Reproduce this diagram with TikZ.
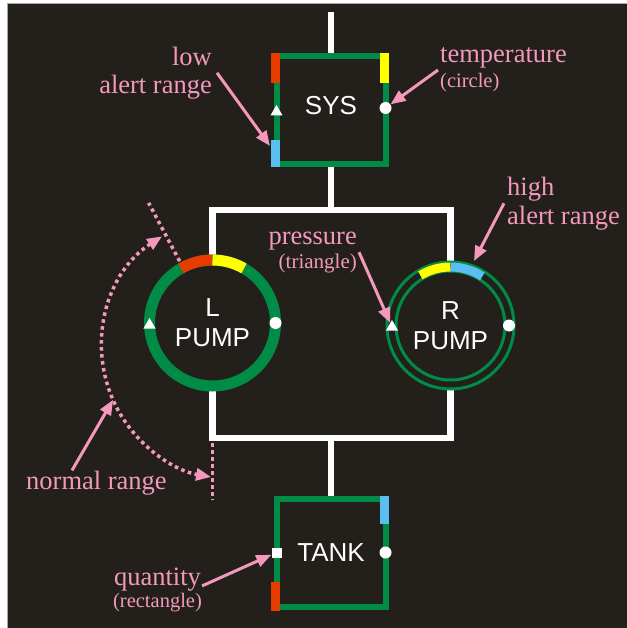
\documentclass[tikz,border=0pt]{standalone}
\usepackage{fontspec}
\setmainfont{Liberation Serif}
\newfontfamily\gaugefont{Liberation Sans}
\usetikzlibrary{arrows.meta,shapes.geometric,backgrounds}
\definecolor{bgdark}{RGB}{35,32,28}
\definecolor{pipegreen}{RGB}{0,140,70}
\definecolor{alertred}{RGB}{230,60,0}
\definecolor{alertyellow}{RGB}{255,255,0}
\definecolor{alertblue}{RGB}{90,190,240}
\definecolor{notepink}{RGB}{245,152,190}
\begin{document}
\begin{tikzpicture}[x=1pt, y=1pt,
  unitbox/.style={rectangle, draw=pipegreen, line width=6pt, minimum width=109pt, minimum height=108pt, inner sep=0pt, outer sep=0pt, text=white, font=\gaugefont\fontsize{26}{30}\selectfont},
  pumpring/.style={circle, draw=pipegreen, inner sep=0pt, outer sep=0pt, align=center, text=white, font=\gaugefont\fontsize{26}{30}\selectfont},
  pipeline/.style={draw=white, line width=6.5pt},
  rangebar/.style={line width=9pt},
  gaugetri/.style={regular polygon, regular polygon sides=3, fill=white, inner sep=0pt, minimum size=14pt},
  gaugedot/.style={circle, fill=white, inner sep=0pt, minimum size=12pt},
  gaugesq/.style={rectangle, fill=white, inner sep=0pt, minimum size=10pt},
  notetext/.style={text=notepink, inner sep=0pt, font=\fontsize{26.5}{28}\selectfont},
  notearrow/.style={draw=notepink, line width=3pt, -{Triangle[length=15pt,width=12pt]}},
  notedots/.style={draw=notepink, line width=3.5pt, dash pattern=on 3.5pt off 3.5pt}]
\useasboundingbox (0,0) rectangle (626,-628);

\node[unitbox, text depth=10pt] (sys) at (331,-110) {SYS};
\node[unitbox] (tank) at (331,-552.5) {TANK};
\node[pumpring, line width=11pt, minimum size=126pt] (lpump) at (212.5,-323) {L\\PUMP};
\node[pumpring, line width=3pt, minimum size=127pt] (rpump) at (450.5,-325.5) {R\\PUMP};
\draw[pipegreen, line width=3pt] (rpump.center) circle[radius=54.5];

\coordinate (inlet) at (331,-12);
\coordinate (jtop) at (331,-210);
\coordinate (jbot) at (331,-438);
\begin{scope}[on background layer]
\fill[bgdark, draw=black!35, line width=1pt] (7.5,-4) rectangle (640,-640);
\draw[pipeline] (inlet) -- (sys.north);
\draw[pipeline] (sys.south) -- (jtop);
\draw[pipeline] (lpump.north) -- (lpump.north |- jtop) -- (rpump.north |- jtop) -- (rpump.north);
\draw[pipeline] (lpump.south) -- (lpump.south |- jbot) -- (rpump.south |- jbot) -- (rpump.south);
\draw[pipeline] (jbot) -- (tank.north);
\end{scope}

\draw[rangebar, alertred] ([shift={(-1pt,3pt)}]sys.north west) -- ++(0,-30);
\draw[rangebar, alertyellow] ([shift={(-1.5pt,3pt)}]sys.north east) -- ++(0,-30);
\draw[rangebar, alertblue] ([shift={(-1pt,-3pt)}]sys.south west) -- ++(0,27);
\draw[rangebar, alertblue] ([shift={(-1.5pt,3pt)}]tank.north east) -- ++(0,-28);
\draw[rangebar, alertred] ([shift={(-1pt,-4pt)}]tank.south west) -- ++(0,29);

\draw[alertred, line width=11pt] ([shift={(120:63)}]lpump.center) arc[start angle=120, end angle=90, radius=63];
\draw[alertyellow, line width=11pt] ([shift={(90:63)}]lpump.center) arc[start angle=90, end angle=60, radius=63];
\draw[alertyellow, line width=9pt] ([shift={(121:58.5)}]rpump.center) arc[start angle=121, end angle=90, radius=58.5];
\draw[alertblue, line width=9pt] ([shift={(90:58.5)}]rpump.center) arc[start angle=90, end angle=57, radius=58.5];

\node[gaugetri] (systri) at ([yshift=-2pt]sys.west) {};
\node[gaugedot] (sysdot) at ([yshift=2pt]sys.east) {};
\node[gaugetri] (ltri) at ([yshift=-2pt]lpump.west) {};
\node[gaugedot] (ldot) at (lpump.east) {};
\node[gaugetri] (rtri) at ([shift={(-58.5,-1.5)}]rpump.center) {};
\node[gaugedot] (rdot) at ([xshift=58.5pt]rpump.center) {};
\node[gaugesq] (tanksq) at (tank.west) {};
\node[gaugedot] (tankdot) at (tank.east) {};

\coordinate (normc) at (234,-347);
\coordinate (normarc) at ([shift={(203.6:132)}]normc);
\coordinate (syslow) at (270,-146);
\coordinate (rhigh) at (474,-261);
\draw[notedots] ([shift={(118:70)}]lpump.center) -- ([shift={(118:136)}]lpump.center);
\draw[notedots] ([yshift=-120pt]lpump.center) -- ++(0,-57);
\draw[notedots, {Triangle[length=15pt,width=12pt]}-{Triangle[length=15pt,width=12pt]}] ([shift={(123:132)}]normc) arc[start angle=123, end angle=260, radius=132];

\node[notetext, align=right, anchor=east] (lowlabel) at (212,-72.8) {low\\alert range};
\node[notetext, align=left, anchor=west, font=\fontsize{26.5}{25}\selectfont] (templabel) at (440,-70) {temperature\\{\fontsize{20.5}{24}\selectfont (circle)}};
\node[notetext, align=left, anchor=west, font=\fontsize{26.5}{29}\selectfont] (highlabel) at (507,-203.3) {high\\alert range};
\node[notetext, align=right, anchor=east, font=\fontsize{26.5}{24}\selectfont] (presslabel) at (357,-252.2) {pressure\\{\fontsize{21}{24}\selectfont (triangle)}};
\node[notetext, anchor=base west] (normlabel) at (26,-489) {normal range};
\node[notetext, align=center, font=\fontsize{26.5}{22}\selectfont] (qtylabel) at (157.5,-589.9) {quantity\\{\fontsize{20.5}{22}\selectfont (rectangle)}};

\draw[notearrow] ([xshift=5pt]lowlabel.east) -- (syslow);
\draw[notearrow] ([xshift=-2pt]templabel.west) -- (sysdot);
\draw[notearrow] ([xshift=-3pt]highlabel.west) -- (rhigh);
\draw[notearrow] ([xshift=2pt]presslabel.east) -- (rtri);
\draw[notearrow] ([xshift=46pt]normlabel.north west) -- (normarc);
\draw[notearrow] ([yshift=4pt]qtylabel.east) -- (tanksq);
\end{tikzpicture}
\end{document}
